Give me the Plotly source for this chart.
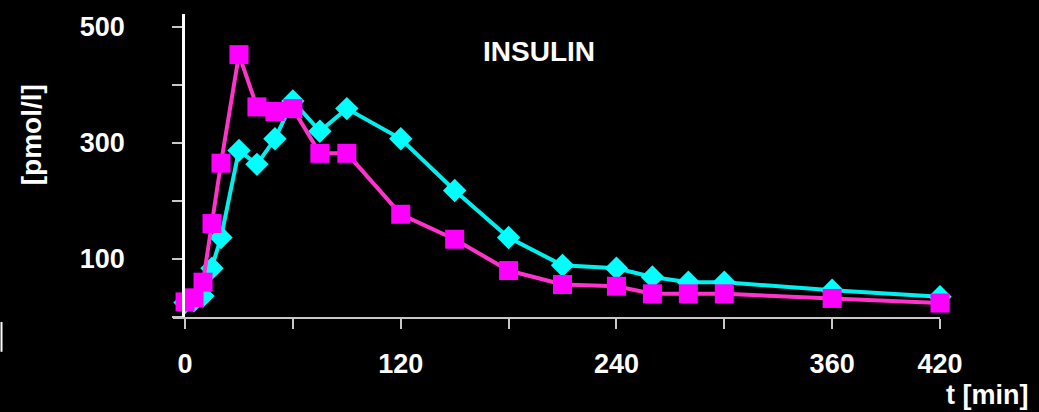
import plotly.graph_objects as go

t_min = [0, 5, 10, 15, 20, 30, 40, 50, 60, 75, 90, 120, 150, 180, 210, 240, 260, 280, 300, 360, 420]
insulin_magenta = [26, 33, 60, 161, 265, 452, 362, 354, 359, 282, 282, 177, 134, 80, 56, 53, 40, 40, 40, 32, 24]
insulin_cyan = [25, 28, 36, 84, 137, 287, 263, 307, 372, 320, 359, 307, 218, 137, 89, 84, 69, 60, 60, 46, 35]

x_tickvals = [0, 60, 120, 180, 240, 300, 360, 420]
x_ticktext = ["0", "", "120", "", "240", "", "360", "420"]
y_tickvals = [0, 100, 200, 300, 400, 500]
y_ticktext = ["", "100", "", "300", "", "500"]

FONT = "Liberation Sans, Arial, sans-serif"

W, H = 1039, 412
pl, pr, pt, pb = 173, 99, 12, 95
pw, ph = W - pl - pr, H - pt - pb


def px(x):
    return (x - pl) / pw


def py(y):
    return 1 - (y - pt) / ph


fig = go.Figure()
fig.add_trace(go.Scatter(
    x=t_min, y=insulin_cyan, mode="lines+markers",
    line=dict(color="#00f0f0", width=4),
    marker=dict(symbol="diamond", size=18, color="#00ffff"),
    cliponaxis=False, showlegend=False))
fig.add_trace(go.Scatter(
    x=t_min, y=insulin_magenta, mode="lines+markers",
    line=dict(color="#ff33cc", width=4),
    marker=dict(symbol="square", size=19, color="#ff00ff"),
    cliponaxis=False, showlegend=False))

fig.update_layout(
    width=W, height=H,
    margin=dict(l=pl, r=pr, t=pt, b=pb),
    paper_bgcolor="black", plot_bgcolor="black",
    font=dict(family=FONT, color="white", size=26),
    xaxis=dict(range=[-6.7, 420], tickvals=x_tickvals, ticktext=x_ticktext,
               showgrid=False, zeroline=False, showline=True,
               linecolor="#c8c8c8", linewidth=2, ticks="outside", ticklen=10,
               tickcolor="#c8c8c8", tickwidth=2,
               tickfont=dict(family=FONT, size=27, color="white", weight="bold"),
               ticklabelstandoff=12),
    yaxis=dict(range=[0, 522], tickvals=y_tickvals, ticktext=y_ticktext,
               anchor="free", position=0.013,
               showgrid=False, zeroline=False, showline=True,
               linecolor="white", linewidth=2.5, ticks="outside", ticklen=10,
               tickcolor="#c8c8c8", tickwidth=2,
               tickfont=dict(family=FONT, size=27, color="white", weight="bold"),
               ticklabelstandoff=42),
    annotations=[
        dict(text="<b>INSULIN</b>", x=px(539), y=py(50), xref="paper", yref="paper",
             showarrow=False, font=dict(size=28, color="white", family=FONT),
             xanchor="center", yanchor="middle"),
        dict(text="<b>[pmol/l]</b>", x=px(31), y=py(134), xref="paper", yref="paper",
             showarrow=False, textangle=-90, xanchor="center", yanchor="middle",
             font=dict(size=28, color="white", family=FONT)),
        dict(text="<b>t [min]</b>", x=px(987), y=py(396), xref="paper", yref="paper",
             showarrow=False, xanchor="center", yanchor="middle",
             font=dict(size=27, color="white", family=FONT)),
    ],
)

fig.add_shape(type="line", xref="paper", yref="paper",
              x0=px(1.5), x1=px(1.5), y0=py(322), y1=py(352),
              line=dict(color="white", width=2))

fig.write_html(
    "out.html",
    config={"displayModeBar": False},
    post_script="document.body.style.margin='0';document.body.style.background='black';",
)
